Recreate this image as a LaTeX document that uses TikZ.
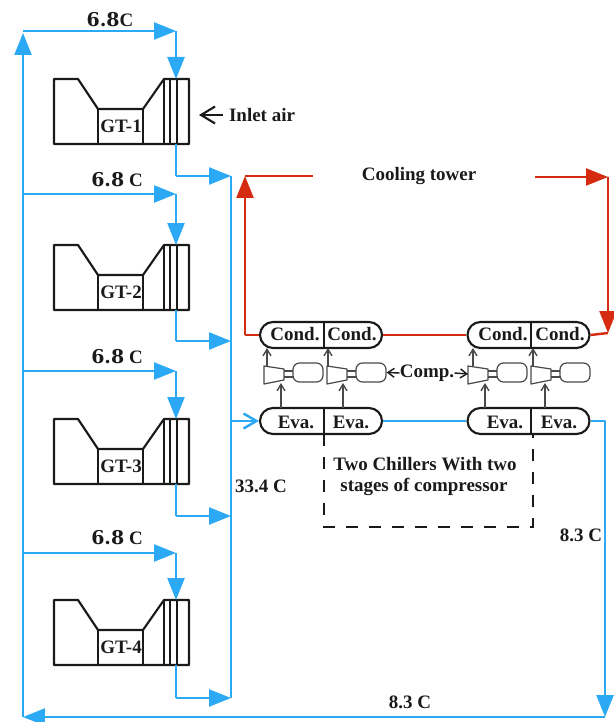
\documentclass[tikz,border=0pt]{standalone}
\usepackage{fontspec}
\setmainfont{Liberation Serif}
\newfontfamily\widefont{DejaVu Serif}
\usepackage{tikz}
\usetikzlibrary{arrows.meta}
\definecolor{coldline}{HTML}{2BA9F4}
\definecolor{hotline}{HTML}{D52B10}
\definecolor{ink}{HTML}{1A1A1A}
\definecolor{unit}{HTML}{4A4A4A}
\tikzset{
  lab/.style={font=\fontsize{10.8}{12}\selectfont\bfseries,text=ink,inner sep=0pt},
  templab/.style={font=\fontsize{10.8}{12}\selectfont\bfseries,text=ink,inner sep=0pt},
  cold/.style={coldline,line width=1.4pt,line join=round},
  hot/.style={hotline,line width=1.4pt,line join=round},
  coldhead/.style={cold,-{Triangle[length=0.44cm,width=0.34cm]}},
  hothead/.style={hot,-{Triangle[length=0.44cm,width=0.34cm]}},
  pill/.style={draw=ink,line width=1.2pt,fill=white,minimum width=2.44cm,minimum height=0.52cm,rounded corners=0.26cm,inner sep=0pt},
  motor/.style={draw=unit,line width=0.7pt,minimum width=0.6cm,minimum height=0.38cm,rounded corners=0.13cm,inner sep=0pt},
  riser/.style={unit,line width=0.8pt,-{Straight Barb[length=1.3mm,width=1.6mm]}},
  gt/.style={ink,line width=1.2pt,line join=round},
}
\begin{document}
\begin{tikzpicture}[x=0.02cm,y=-0.02cm]
  \useasboundingbox (0,0) rectangle (613,722);
  % chilled water mains
  \coordinate (maintop) at (23,31);
  \coordinate (mainbot) at (23,717);
  \coordinate (rightbot) at (605,717);
  \coordinate (rightbend) at (605,421);
  \coordinate (coltop) at (231,176);
  \coordinate (colbot) at (231,698);
  \draw[coldhead] (mainbot) -- (23,33);
  \draw[cold] (coltop) -- (colbot);
  % gas turbines: number/top/branch/bottom line/label x
  \foreach \n/\t/\b/\r/\lx in {1/79/31/176/109,2/245/194/341/117,3/419/371/516/117,4/600/553/698/117}{
    \coordinate (tap\n) at (23,\b);
    \coordinate (drop\n) at (176,\b);
    \coordinate (inlet\n) at (176,\t);
    \coordinate (outlet\n) at (176,\t+65);
    \coordinate (bend\n) at (176,\r);
    \coordinate (col\n) at (231,\r);
    \draw[gt] (54,\t) -- (78,\t) -- (98,\t+30) -- (143,\t+30) -- (164,\t) -- (189,\t) -- (189,\t+65) -- (54,\t+65) -- cycle;
    \draw[gt] (98,\t+30) -- (98,\t+65) (143,\t+30) -- (143,\t+65);
    \draw[gt] (164,\t) -- (164,\t+65) (170,\t) -- (170,\t+65) (177,\t) -- (177,\t+65);
    \node[lab] (gt\n) at (121,\t+47) {GT-\n};
    \draw[coldhead] (tap\n) -- (drop\n);
    \draw[coldhead] (drop\n) -- (inlet\n);
    \draw[cold] (outlet\n) -- (bend\n);
    \draw[coldhead] (bend\n) -- (col\n);
  }
  \node[templab] (supplyone) at (110,20) {{\widefont 6.8}C};
  \node[templab] (supplytwo) at (117,180) {{\widefont 6.8} C};
  \node[templab] (supplythree) at (117,357) {{\widefont 6.8} C};
  \node[templab] (supplyfour) at (117,538) {{\widefont 6.8} C};
  % inlet air
  \node[lab] (air) at (262,115) {Inlet air};
  \coordinate (airtip) at (199,115);
  \draw[ink,line width=1.2pt,-{Straight Barb[length=2.8mm,width=3.4mm]}] (223,115) -- (airtip);
  % condenser and evaporator pairs
  \node[pill] (condA) at (321,335) {};
  \node[pill] (condB) at (528.5,335) {};
  \node[pill] (evaA) at (321,421) {};
  \node[pill] (evaB) at (528.5,421) {};
  \draw[ink,line width=1pt] (324,322) -- (324,348) (531,322) -- (531,348);
  \draw[ink,line width=1pt] (324,408) -- (324,434) (531,408) -- (531,434);
  \foreach \x/\name in {295/a,352/b,503/c,560/d}{\node[lab] (cond\name) at (\x,334) {Cond.};}
  \foreach \x/\name in {296/a,351/b,505/c,559/d}{\node[lab] (eva\name) at (\x,422) {Eva.};}
  % compressors: name/left edge/suction x/discharge x
  \foreach \n/\x/\i/\o in {a/264/17/3,b/327/16/1,c/468/17/5,d/531/14/2}{
    \draw[unit,line width=0.7pt,line join=round] (\x,366) -- (\x+20,369) -- (\x+20,380) -- (\x,384) -- cycle;
    \draw[unit,line width=0.7pt] (\x+20,371) -- (\x+29,371) (\x+20,377) -- (\x+29,377);
    \node[motor] (mot\n) at (\x+44,372.5) {};
    \coordinate (comp\n) at (\x,374);
    \draw[riser] (\x+\i,408) -- (\x+\i,383);
    \draw[riser] (\x+\o,366) -- (\x+\o,348);
  }
  \node[lab] (comp) at (427,373) {Comp.};
  \draw[ink,line width=0.8pt,-{Straight Barb[length=1.3mm,width=1.8mm]}] (comp.west) -- (motb.east);
  \draw[ink,line width=0.8pt,-{Straight Barb[length=1.3mm,width=1.8mm]}] (comp.east) -- (compc);
  % chilled water through evaporators
  \draw[cold,-{Straight Barb[length=2.6mm,width=3mm]}] (231,421) -- (evaA.west);
  \draw[cold] (evaA.east) -- (evaB.west);
  \draw[cold] (evaB.east) -- (rightbend) -- (605,700);
  \draw[coldhead] (605,695) -- (rightbot);
  \draw[coldhead] (rightbot) -- (mainbot);
  \node[templab] (outtemp) at (581,535) {8.3 C};
  \node[templab] (rettemp) at (410,702) {8.3 C};
  \node[templab] (coltemp) at (261,486) {33.4 C};
  % cooling water loop
  \node[lab] (tower) at (419,176) {Cooling tower};
  \coordinate (hotleft) at (245,335);
  \coordinate (hottopl) at (245,176);
  \coordinate (hottopr) at (608,177);
  \coordinate (hotright) at (608,333);
  \draw[hot] (condA.west) -- (hotleft);
  \draw[hothead] (hotleft) -- (hottopl);
  \draw[hot] (hottopl) -- (313,176);
  \draw[hothead] (535,177) -- (hottopr);
  \draw[hothead] (hottopr) -- (hotright);
  \draw[hot] (condA.east) -- (condB.west);
  \draw[hot] (condB.east) -- (hotright);
  % chiller boundary
  \draw[ink,line width=1.1pt,dash pattern=on 0.24cm off 0.22cm] (324,434) -- (324,527) -- (533,527) -- (533,434);
  \node[lab] (chillersa) at (425,464) {Two Chillers With two};
  \node[lab] (chillersb) at (424,487) {stages of compressor};
\end{tikzpicture}
\end{document}
